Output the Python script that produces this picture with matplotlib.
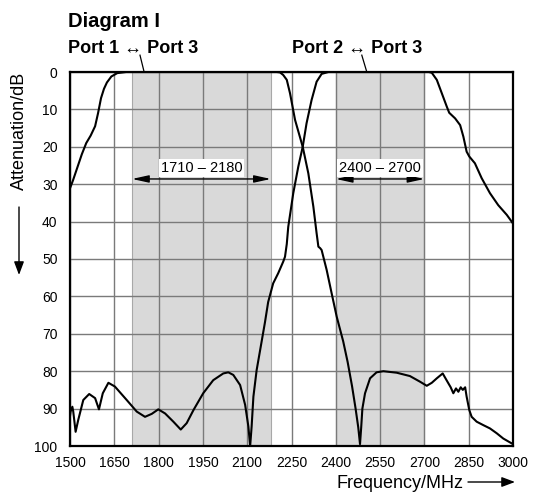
import matplotlib
matplotlib.use("Agg")
import matplotlib.pyplot as plt

plt.rcParams['font.family'] = ['Liberation Sans', 'DejaVu Sans']

# ---- data ----
freq_p13 = [1500, 1510, 1525, 1540, 1555, 1570, 1585, 1595, 1605, 1615, 1625, 1640, 1660, 1690,
            2200, 2211, 2222, 2234, 2245, 2262, 2288, 2307, 2324, 2335, 2341, 2347, 2352, 2369,
            2386, 2403, 2425, 2440, 2455, 2467, 2476, 2482, 2486, 2490, 2499, 2516, 2538, 2561,
            2606, 2651, 2685, 2708, 2725, 2742, 2762, 2775, 2789, 2798, 2807, 2815, 2823, 2830,
            2838, 2843, 2852, 2860, 2877, 2899, 2922, 2945, 2967, 3000]
att_p13 = [31.1, 29.0, 25.5, 22.0, 19.0, 17.0, 14.5, 11.0, 7.0, 4.5, 2.8, 1.2, 0.3, 0.0,
           0.0, 0.1, 0.8, 2.1, 5.7, 12.8, 20.0, 27.1, 36.0, 43.1, 46.7, 47.1, 47.6, 52.9,
           59.2, 65.4, 72.0, 77.5, 84.0, 90.0, 95.0, 99.5, 95.0, 90.0, 85.9, 81.9, 80.3, 80.0,
           80.4, 81.3, 82.8, 83.9, 83.1, 81.9, 80.6, 82.4, 84.3, 85.9, 84.6, 85.5, 84.3, 85.0,
           84.3, 86.8, 90.4, 92.2, 93.5, 94.4, 95.3, 96.6, 98.0, 99.5]

freq_p23 = [1500, 1502, 1508, 1511, 1519, 1528, 1545, 1565, 1585, 1598, 1611, 1630, 1652, 1692,
            1726, 1754, 1777, 1799, 1822, 1850, 1875, 1895, 1918, 1951, 1985, 2019, 2036, 2053,
            2076, 2093, 2104, 2110, 2115, 2121, 2132, 2149, 2160, 2171, 2188, 2205, 2222, 2228,
            2234, 2239, 2256, 2273, 2288, 2301, 2318, 2335, 2352, 2375, 2715, 2725, 2742, 2759,
            2776, 2784, 2804, 2821, 2832, 2843, 2852, 2871, 2894, 2922, 2950, 2979, 3000]
att_p23 = [92.0, 90.8, 89.5, 90.8, 96.2, 93.0, 87.7, 86.1, 87.2, 90.2, 85.9, 83.1, 84.1, 87.7,
           90.8, 92.2, 91.4, 90.2, 91.3, 93.5, 95.6, 93.9, 90.4, 85.9, 82.4, 80.6, 80.3, 81.0,
           83.7, 89.0, 94.8, 100.0, 94.8, 86.8, 79.7, 72.0, 67.0, 61.5, 56.5, 53.8, 50.7, 49.4,
           46.0, 41.4, 32.4, 25.3, 20.0, 13.7, 7.5, 2.6, 0.5, 0.0, 0.0, 0.2, 2.1, 5.7,
           9.3, 10.9, 12.4, 14.2, 17.3, 21.3, 22.6, 24.4, 28.4, 32.4, 35.6, 38.2, 40.5]

bands = [(1710, 2180), (2400, 2700)]
band_labels = ["1710 – 2180", "2400 – 2700"]
x_ticks = [1500, 1650, 1800, 1950, 2100, 2250, 2400, 2550, 2700, 2850, 3000]
y_ticks = [0, 10, 20, 30, 40, 50, 60, 70, 80, 90, 100]

W, H = 535, 496
fig = plt.figure(figsize=(W / 100, H / 100), dpi=100)
ax = fig.add_axes([70 / W, 1 - 446 / H, (513 - 70) / W, (446 - 72) / H])

for (a, b) in bands:
    ax.axvspan(a, b, facecolor='#d9d9d9', edgecolor='#a8a8a8', lw=0.8, zorder=0.2)

ax.plot(freq_p13, att_p13, color='black', lw=1.5, zorder=3)
ax.plot(freq_p23, att_p23, color='black', lw=1.5, zorder=3)

ax.set_xlim(1500, 3000)
ax.set_ylim(100, 0)
ax.set_xticks(x_ticks)
ax.set_yticks(y_ticks)
ax.set_axisbelow(True)
ax.grid(True, color='#7a7a7a', lw=1.0, zorder=0.5)
ax.tick_params(length=0, labelsize=10, colors='black')
ax.tick_params(axis='x', pad=7)
ax.tick_params(axis='y', pad=9)
for s in ax.spines.values():
    s.set_linewidth(1.6)
    s.set_zorder(4)

# band annotations
for (a, b), lab in zip(bands, band_labels):
    ax.annotate('', xy=(a, 28.6), xytext=(b, 28.6),
                arrowprops=dict(arrowstyle='<|-|>,head_length=1.0,head_width=0.22',
                                color='black', lw=1.0, shrinkA=0, shrinkB=0), zorder=5)
    ax.text((a + b) / 2, 25.7, lab, ha='center', va='center', fontsize=10.5,
            bbox=dict(facecolor='white', edgecolor='none', pad=1.5), zorder=6)

# titles
fig.text(68 / W, 1 - 27 / H, "Diagram I", fontsize=14.5, fontweight='bold',
         ha='left', va='baseline')
fig.text(68 / W, 1 - 53 / H, "Port 1 \u2194 Port 3", fontsize=13, fontweight='bold',
         ha='left', va='baseline')
fig.text(292 / W, 1 - 53 / H, "Port 2 \u2194 Port 3", fontsize=13, fontweight='bold',
         ha='left', va='baseline')

# leader lines
ax.plot([1737, 1751], [-4.5, 0], color='black', lw=0.9, clip_on=False, zorder=5)
ax.plot([2488, 2505], [-4.5, 0], color='black', lw=0.9, clip_on=False, zorder=5)

# axis labels with arrows
fig.text(19 / W, 1 - 131 / H, "Attenuation/dB", fontsize=13, rotation=90,
         ha='center', va='center')
fig.add_artist(matplotlib.patches.FancyArrowPatch(
    (19, H - 207), (19, H - 275), transform=None,
    arrowstyle='-|>,head_length=8,head_width=3', color='black', lw=1.0,
    shrinkA=0, shrinkB=0))
fig.text(464 / W, 1 - 488 / H, "Frequency/MHz", fontsize=13, ha='right', va='baseline')
fig.add_artist(matplotlib.patches.FancyArrowPatch(
    (468, H - 482), (515, H - 482), transform=None,
    arrowstyle='-|>,head_length=8,head_width=3', color='black', lw=1.0,
    shrinkA=0, shrinkB=0))

fig.savefig("out.png", dpi=100)
